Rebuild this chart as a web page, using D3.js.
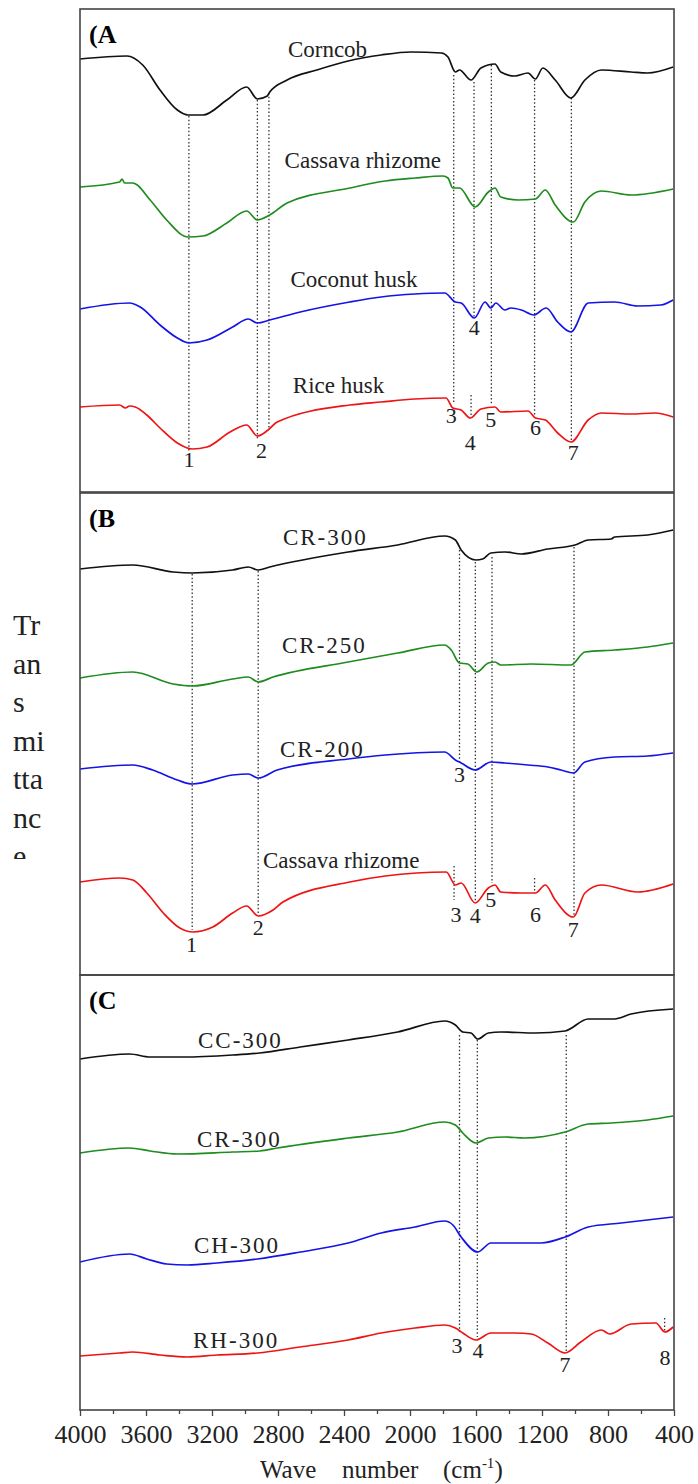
<!DOCTYPE html>
<html>
<head>
<meta charset="utf-8">
<script src="https://cdn.jsdelivr.net/npm/d3@7"></script>
<style>
  body { margin: 0; background: #fff; }
  svg, svg text { font-family: "Liberation Serif", "DejaVu Serif", serif; }
  svg { display: block; }
</style>
</head>
<body>
<div id="chart"></div>
<script>
// x ticks (wave number, cm-1)
const waveTicks = [4000, 3600, 3200, 2800, 2400, 2000, 1600, 1200, 800, 400];
const minorTicks = [3800, 3400, 3000, 2600, 2200, 1800, 1400, 1000, 600];

// spectra: [wave number, transmittance (a.u., stacked)]
// panel A
const corncob = [[4000,433],[3715,436],[3620,427],[3515,402],[3410,382],[3345,377],[3255,377],[3110,392],[2990,405],[2925,393],[2865,396],[2850,400],[2745,412],[2565,422],[2375,431],[2175,437],[1995,440],[1810,439],[1770,435],[1725,420],[1700,422],[1630,412],[1570,424],[1485,428],[1450,420],[1365,416],[1285,419],[1240,413],[1195,424],[1120,412],[1025,394],[940,412],[840,422],[660,420],[560,419],[405,425]];
const cassavaA = [[4000,305],[3760,310],[3745,313],[3730,309],[3680,309],[3575,292],[3475,272],[3345,255],[3255,256],[3110,269],[2990,281],[2925,272],[2850,277],[2745,289],[2365,304],[2150,311],[1970,314],[1800,316],[1770,314],[1740,304],[1700,304],[1605,285],[1525,300],[1485,304],[1450,295],[1345,292],[1240,293],[1180,302],[1120,287],[1010,270],[940,290],[840,301],[660,297],[405,303]];
const coconut = [[4000,183],[3700,189],[3635,185],[3515,167],[3410,154],[3340,149],[3230,152],[3075,165],[2980,173],[2925,169],[2850,172],[2665,180],[2365,190],[2175,195],[1970,198],[1790,199],[1725,190],[1690,189],[1610,174],[1545,190],[1510,184],[1480,189],[1425,182],[1390,184],[1325,182],[1250,177],[1175,184],[1105,170],[1025,160],[920,189],[760,190],[620,186],[480,187],[405,192]];
const riceHusk = [[4000,85],[3760,87],[3725,84],[3700,86],[3665,85],[3595,77],[3515,64],[3410,49],[3320,43],[3230,45],[3090,60],[2990,67],[2925,56],[2860,62],[2805,70],[2365,87],[2175,90],[1970,93],[1782,94],[1740,84],[1690,82],[1635,74],[1570,83],[1485,85],[1450,80],[1285,81],[1240,74],[1180,72],[1105,59],[1025,50],[920,72],[840,79],[660,78],[515,79],[405,75]];
// panel B
const cr300B = [[4000,406],[3680,410],[3435,403],[3320,402],[3075,405],[2980,408],[2920,405],[2850,408],[2375,423],[2075,430],[1790,439],[1725,435],[1690,425],[1600,415],[1560,416],[1510,422],[1425,423],[1325,421],[1165,426],[1000,430],[920,435],[780,436],[760,438],[560,440],[405,445]];
const cr250 = [[4000,297],[3680,303],[3435,291],[3320,289],[3075,296],[2980,298],[2920,293],[2830,298],[2375,313],[2075,322],[1790,330],[1750,325],[1700,312],[1650,311],[1595,303],[1525,312],[1485,313],[1450,310],[1265,311],[1025,310],[940,323],[760,325],[560,328],[405,332]];
const cr200 = [[4000,206],[3680,210],[3560,205],[3410,195],[3320,191],[3075,200],[2980,201],[2920,197],[2805,205],[2375,216],[2150,220],[1790,223],[1725,215],[1690,212],[1605,205],[1510,213],[1425,212],[1285,210],[1165,208],[1085,205],[1010,202],[940,213],[760,218],[560,219],[405,222]];
const cassavaB = [[4000,93],[3760,97],[3680,95],[3595,82],[3495,62],[3395,47],[3315,43],[3195,48],[3075,62],[2990,69],[2920,59],[2830,65],[2770,73],[2365,93],[2150,99],[1960,102],[1780,103],[1725,90],[1690,92],[1605,72],[1525,87],[1485,90],[1450,83],[1325,82],[1240,82],[1180,90],[1120,75],[1010,58],[940,82],[840,90],[620,83],[405,91]];
// panel C
const cc300 = [[4000,351],[3700,356],[3575,353],[3375,353],[3075,355],[2910,357],[2665,363],[2375,370],[2075,378],[1790,389],[1725,385],[1680,378],[1630,377],[1590,371],[1525,377],[1450,378],[1240,377],[1060,379],[920,391],[760,391],[660,396],[405,401]];
const cr300C = [[4000,257],[3700,262],[3575,259],[3410,256],[3075,258],[2910,259],[2805,262],[2375,272],[2075,278],[1790,288],[1725,285],[1680,277],[1600,267],[1525,272],[1425,273],[1305,272],[1060,278],[920,286],[780,287],[560,290],[405,294]];
const ch300 = [[4000,148],[3700,156],[3595,151],[3475,146],[3350,145],[3170,147],[2925,151],[2665,158],[2375,167],[2175,177],[1970,183],[1790,189],[1740,185],[1690,173],[1590,158],[1510,167],[1365,167],[1205,167],[1060,173],[920,183],[720,187],[405,193]];
const rh300 = [[4000,54],[3760,57],[3680,58],[3515,55],[3350,53],[3170,55],[2925,57],[2665,63],[2375,70],[2175,77],[1970,82],[1790,85],[1725,82],[1680,77],[1600,70],[1510,77],[1365,77],[1265,76],[1165,67],[1060,57],[965,68],[840,80],[790,76],[660,86],[510,87],[455,78],[405,83]];

// series names: [text, wave number, value]
const namesA = [["Corncob",2740,435],["Cassava rhizome",2760,324],["Coconut husk",2725,205],["Rice husk",2710,99]];
const namesB = [["CR-300",2770,430],["CR-250",2776,322],["CR-200",2788,218],["Cassava rhizome",2891,107]];
const namesC = [["CC-300",3285,362],["CR-300",3291,263],["CH-300",3309,157],["RH-300",3315,62]];

// dotted marker lines: [wave number, from value, to value]
const markersA = [[3340,376,40],[2925,392,52],[2855,399,62],[1735,417,89],[1612,410,175],[1630,97,75],[1507,427,87],[1245,412,77],[1022,394,52]];
const markersB = [[3320,401,45],[2920,404,60],[1700,425,213],[1733,109,75],[1604,413,73],[1503,418,92],[1245,97,82],[1006,428,58]];
const markersC = [[1700,375,78],[1592,370,73],[1053,375,58],[457,92,78]];

// peak numbers: [label, wave number, value]
const peaksA = [["1",3340,25],["2",2900,34],["3",1750,69],["4",1610,157],["4",1635,42],["5",1510,65],["6",1240,57],["7",1010,32]];
const peaksB = [["1",3325,23],["2",2920,40],["3",1700,193],["3",1721,53],["4",1605,52],["5",1510,68],["6",1240,53],["7",1010,38]];
const peaksC = [["3",1715,57],["4",1588,52],["7",1060,38],["8",455,45]];

const colors = ["#111111", "#1e8c1e", "#1414e6", "#ee1414"];

const W = 698, H = 1484;
const left = 80, right = 674;

const panels = [
  {tag: "(A", top: 9, bottom: 492, series: [corncob, cassavaA, coconut, riceHusk], names: namesA, markers: markersA, peaks: peaksA},
  {tag: "(B", top: 493, bottom: 975, series: [cr300B, cr250, cr200, cassavaB], names: namesB, markers: markersB, peaks: peaksB},
  {tag: "(C", top: 975, bottom: 1410, series: [cc300, cr300C, ch300, rh300], names: namesC, markers: markersC, peaks: peaksC}
];

const svg = d3.select("#chart").append("svg")
    .attr("width", W)
    .attr("height", H);

const x = d3.scaleLinear().domain([4000, 400]).range([left, right]);

panels.forEach(function(p) {
  const y = d3.scaleLinear().domain([0, p.bottom - p.top]).range([p.bottom, p.top]);
  const g = svg.append("g");

  // dotted guides
  g.selectAll("line.marker")
    .data(p.markers)
    .join("line")
    .attr("class", "marker")
    .attr("x1", d => x(d[0])).attr("x2", d => x(d[0]))
    .attr("y1", d => y(d[1])).attr("y2", d => y(d[2]))
    .attr("stroke", "#333")
    .attr("stroke-width", 1.3)
    .attr("stroke-dasharray", "1.5,2.2");

  const line = d3.line()
    .x(d => x(d[0]))
    .y(d => y(d[1]))
    .curve(d3.curveMonotoneX);

  g.selectAll("path.spec")
    .data(p.series)
    .join("path")
    .attr("class", "spec")
    .attr("d", line)
    .attr("fill", "none")
    .attr("stroke", (d, i) => colors[i])
    .attr("stroke-width", 1.7);

  g.selectAll("text.name")
    .data(p.names)
    .join("text")
    .attr("class", "name")
    .attr("x", d => x(d[1]))
    .attr("y", d => y(d[2]))
    .attr("font-size", "23px")
    .attr("letter-spacing", d => d[0].indexOf("-") >= 0 ? "2px" : "0px")
    .attr("fill", "#222")
    .text(d => d[0]);

  g.selectAll("text.peak")
    .data(p.peaks)
    .join("text")
    .attr("class", "peak")
    .attr("x", d => x(d[1]))
    .attr("y", d => y(d[2]))
    .attr("text-anchor", "middle")
    .attr("font-size", "22px")
    .attr("fill", "#222")
    .text(d => d[0]);

  g.append("text")
    .attr("x", left + 9)
    .attr("y", p.top + 34)
    .attr("font-size", "26px")
    .attr("font-weight", "bold")
    .text(p.tag);

  g.append("rect")
    .attr("x", left).attr("y", p.top)
    .attr("width", right - left).attr("height", p.bottom - p.top)
    .attr("fill", "none")
    .attr("stroke", "#444")
    .attr("stroke-width", 1.6);
});

// bottom axis
const axis = svg.append("g")
    .attr("transform", `translate(0,${1410})`)
    .call(d3.axisBottom(x).tickValues(waveTicks).tickSize(6).tickPadding(9).tickFormat(d3.format("d")));
axis.attr("font-family", null);
axis.select(".domain").remove();
axis.selectAll("text")
    .style("font-family", "'Liberation Serif', serif")
    .style("font-size", "26px")
    .attr("fill", "#222");
axis.selectAll("line").attr("stroke", "#444").attr("stroke-width", 1.3);

svg.append("g")
    .attr("transform", `translate(0,${1410})`)
    .call(d3.axisBottom(x).tickValues(minorTicks).tickSize(4).tickFormat(""))
    .call(g => g.select(".domain").remove())
    .selectAll("line").attr("stroke", "#444").attr("stroke-width", 1.3);

// x title
const xt = svg.append("text").attr("y", 1478).attr("font-size", "25px").attr("fill", "#222");
xt.append("tspan").attr("x", 260).text("Wave");
xt.append("tspan").attr("x", 342).text("number");
xt.append("tspan").attr("x", 443).text("(cm");
xt.append("tspan").attr("dy", -10).attr("font-size", "15px").text("-1");
xt.append("tspan").attr("dy", 10).text(")");

// y title, broken into stacked pieces and clipped
svg.append("clipPath").attr("id", "yclip")
  .append("rect").attr("x", 0).attr("y", 560).attr("width", 78).attr("height", 299);
const yParts = ["Tr", "an", "s", "mi", "tta", "nc", "e"];
svg.append("g").attr("clip-path", "url(#yclip)")
  .selectAll("text")
  .data(yParts)
  .join("text")
  .attr("x", 13)
  .attr("y", (d, i) => 635 + i * 38.5)
  .attr("font-size", "30px")
  .attr("fill", "#222")
  .text(d => d);
</script>
</body>
</html>
